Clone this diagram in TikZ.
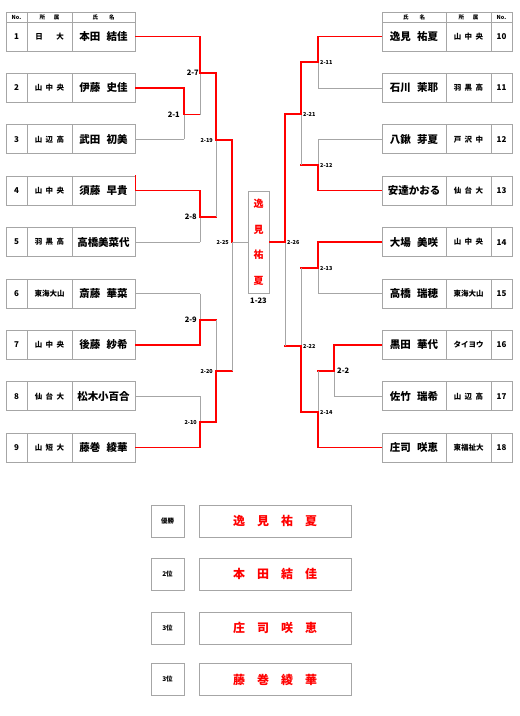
\documentclass[tikz,border=0pt]{standalone}
\usepackage{fontspec}
\setmainfont{Noto Sans CJK JP}
\usetikzlibrary{positioning}

\begin{document}
\begin{tikzpicture}[x=1pt, y=-1pt,
    cell/.style={draw=gray!70, line width=0.7pt, inner sep=0pt, minimum height=29pt},
    head/.style={cell, minimum height=10pt, font=\bfseries\fontsize{5.5}{6}\selectfont},
    numf/.style={font=\bfseries\fontsize{8}{9}\selectfont},
    orgf/.style={font=\bfseries\fontsize{7.5}{8}\selectfont},
    namef/.style={font=\bfseries\fontsize{10.5}{12}\selectfont},
    win/.style={draw=red, line width=1.3pt, line cap=rect},
    lose/.style={draw=gray!70, line width=0.7pt},
    mlab/.style={inner sep=0pt, font=\bfseries\fontsize{7.5}{8}\selectfont},
    slab/.style={inner sep=0pt, font=\bfseries\fontsize{5.5}{6}\selectfont}]
    \useasboundingbox (0,0) rectangle (520,716);

    % En-tetes
    \node[head, minimum width=21pt] (hno) at (16.5,17) {No.};
    \node[head, minimum width=45pt] (horg) at (49.5,17) {所\hspace{1.6em}属};
    \node[head, minimum width=63pt] (hnm) at (103.5,17) {氏\hspace{2em}名};
    \node[head, minimum width=64pt] (hnmR) at (414,17) {氏\hspace{2em}名};
    \node[head, minimum width=45pt] (horgR) at (468.5,17) {所\hspace{1.6em}属};
    \node[head, minimum width=21pt] (hnoR) at (501.5,17) {No.};

    % Joueuses a gauche
    \foreach \i/\org/\nm in {1/日\hspace{1.8em}大/本田\hspace{.6em}結佳,
        2/山\hspace{.45em}中\hspace{.45em}央/伊藤\hspace{.6em}史佳,
        3/山\hspace{.45em}辺\hspace{.45em}高/武田\hspace{.6em}初美,
        4/山\hspace{.45em}中\hspace{.45em}央/須藤\hspace{.6em}早貴,
        5/羽\hspace{.45em}黒\hspace{.45em}高/高橋美菜代,
        6/東海大山/斎藤\hspace{.6em}華菜,
        7/山\hspace{.45em}中\hspace{.45em}央/後藤\hspace{.6em}紗希,
        8/仙\hspace{.45em}台\hspace{.45em}大/松木小百合,
        9/山\hspace{.45em}短\hspace{.45em}大/藤巻\hspace{.6em}綾華} {
        \pgfmathsetmacro\y{36.5+(\i-1)*51.4}
        \node[cell, numf, minimum width=21pt] (no\i) at (16.5,\y) {\i};
        \node[cell, orgf, minimum width=45pt] (org\i) at (49.5,\y) {\org};
        \node[cell, namef, minimum width=63pt] (n\i) at (103.5,\y) {\nm};
    }

    % Joueuses a droite
    \foreach \i/\org/\nm in {10/山\hspace{.45em}中\hspace{.45em}央/逸見\hspace{.6em}祐夏,
        11/羽\hspace{.45em}黒\hspace{.45em}高/石川\hspace{.6em}茉耶,
        12/戸\hspace{.45em}沢\hspace{.45em}中/八鍬\hspace{.6em}芽夏,
        13/仙\hspace{.45em}台\hspace{.45em}大/安達かおる,
        14/山\hspace{.45em}中\hspace{.45em}央/大場\hspace{.6em}美咲,
        15/東海大山/高橋\hspace{.6em}瑞穂,
        16/タイヨウ/黒田\hspace{.6em}華代,
        17/山\hspace{.45em}辺\hspace{.45em}高/佐竹\hspace{.6em}瑞希,
        18/東福祉大/庄司\hspace{.6em}咲恵} {
        \pgfmathsetmacro\y{36.5+(\i-10)*51.4}
        \node[cell, namef, minimum width=64pt] (n\i) at (414,\y) {\nm};
        \node[cell, orgf, minimum width=45pt] (org\i) at (468.5,\y) {\org};
        \node[cell, numf, minimum width=21pt] (no\i) at (501.5,\y) {\i};
    }

    % Vainqueur au centre
    \node[cell, minimum width=21pt, minimum height=102pt, align=center, text=red,
        font=\bfseries\fontsize{10}{25.5}\selectfont] (champ) at (258.5,242) {逸\\見\\祐\\夏};
    \node[mlab, below=4pt of champ] (t23) {1-23};

    % Points de rencontre
    \coordinate (m1) at (184,114.5);
    \coordinate (m7) at (200,73);
    \coordinate (m8) at (200,217);
    \coordinate (m19) at (216,140);
    \coordinate (m9) at (200,320);
    \coordinate (m10) at (200,422);
    \coordinate (m20) at (216,371);
    \coordinate (m25) at (232,242);
    \coordinate (m11) at (318,62);
    \coordinate (m12) at (318,165);
    \coordinate (m21) at (301,114);
    \coordinate (m13) at (318,268);
    \coordinate (m2) at (334,371);
    \coordinate (m14) at (318,412);
    \coordinate (m22) at (301,346);
    \coordinate (m26) at (285,242);

    % Traits du tableau : horizontal puis vertical
    \foreach \s/\j/\h/\v in {n1.east/m7/win/win, n2.east/m1/win/win, n3.east/m1/lose/lose,
        m1/m7/win/lose, n4.east/m8/win/win, n5.east/m8/lose/lose,
        m7/m19/win/win, m8/m19/win/lose, m19/m25/win/win,
        n6.east/m9/lose/lose, n7.east/m9/win/win, n8.east/m10/lose/lose, n9.east/m10/win/win,
        m9/m20/win/lose, m10/m20/win/win, m20/m25/win/lose,
        n10.west/m11/win/win, n11.west/m11/lose/lose, n12.west/m12/lose/lose, n13.west/m12/win/win,
        m11/m21/win/win, m12/m21/win/lose, m21/m26/win/win,
        n14.west/m13/win/win, n15.west/m13/lose/lose, n16.west/m2/win/win, n17.west/m2/lose/lose,
        m2/m14/win/lose, n18.west/m14/win/win, m13/m22/win/lose, m14/m22/win/win, m22/m26/win/lose} {
        \draw[\h] (\s) -- (\s -| \j);
        \draw[\v] (\s -| \j) -- (\j);
    }
    \draw[lose] (m25) -- (m25 -| champ.west);
    \draw[win] (m26) -- (m26 -| champ.east);
    \draw[win] (n4.north east) -- (n4.east);

    % Numeros des matchs
    \node[mlab, left=1pt of m7] (t7) {2-7};
    \node[mlab, left=4pt of m1] (t1) {2-1};
    \node[mlab, left=3pt of m8] (t8) {2-8};
    \node[slab, left=3pt of m19] (t19) {2-19};
    \node[slab, left=3pt of m25] (t25) {2-25};
    \node[mlab, left=3pt of m9] (t9) {2-9};
    \node[slab, left=3pt of m10] (t10) {2-10};
    \node[slab, left=3pt of m20] (t20) {2-20};
    \node[slab, right=2pt of m11] (t11) {2-11};
    \node[slab, right=2pt of m21] (t21) {2-21};
    \node[slab, right=2pt of m12] (t12) {2-12};
    \node[slab, right=2pt of m26] (t26) {2-26};
    \node[slab, right=2pt of m13] (t13) {2-13};
    \node[slab, right=2pt of m22] (t22) {2-22};
    \node[mlab, right=3pt of m2] (t2) {2-2};
    \node[slab, right=2pt of m14] (t14) {2-14};

    % Resultats
    \foreach \k/\y/\rk/\nm in {1/521/優勝/逸\hspace{1em}見\hspace{1em}祐\hspace{1em}夏,
        2/574/2位/本\hspace{1em}田\hspace{1em}結\hspace{1em}佳,
        3/628/3位/庄\hspace{1em}司\hspace{1em}咲\hspace{1em}恵,
        4/679.5/3位/藤\hspace{1em}巻\hspace{1em}綾\hspace{1em}華} {
        \node[cell, minimum width=33pt, minimum height=32pt,
            font=\bfseries\fontsize{6.5}{7}\selectfont] (rk\k) at (167.5,\y) {\rk};
        \node[cell, minimum width=152pt, minimum height=32pt, text=red,
            font=\bfseries\fontsize{12}{13}\selectfont] (rn\k) at (275,\y) {\nm};
    }
\end{tikzpicture}
\end{document}
